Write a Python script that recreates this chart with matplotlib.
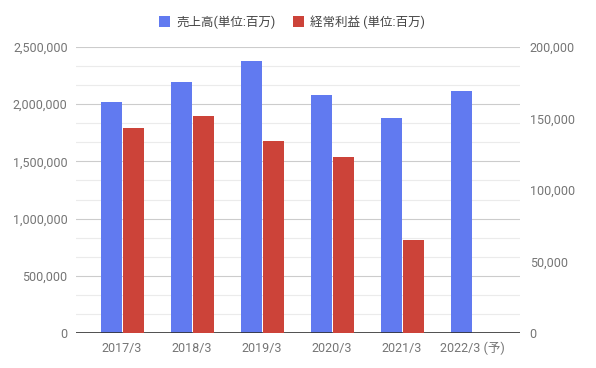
"""Sales and ordinary profit, dual-axis bar chart."""

import matplotlib

matplotlib.use("Agg")
import matplotlib.pyplot as plt
import numpy as np
from matplotlib.patches import Patch
from matplotlib.ticker import FuncFormatter, MultipleLocator

plt.rcParams["font.family"] = ["Roboto", "Noto Sans CJK JP", "DejaVu Sans"]

years = ["2017/3", "2018/3", "2019/3", "2020/3", "2021/3", "2022/3 (予)"]
sales = [2018000, 2190000, 2376000, 2079000, 1879000, 2114000]
profit = [143300, 151600, 134400, 123000, 65100, np.nan]

sales_label = "売上高(単位:百万)"
profit_label = "経常利益 (単位:百万)"

BLUE = "#617af0"
RED = "#cc4339"
TEXT = "#757575"

fig = plt.figure(figsize=(5.96, 3.68), dpi=100)
ax = fig.add_axes([76 / 596, 34.7 / 368, 444 / 596, 286.6 / 368])
ax2 = ax.twinx()

x = np.arange(len(years))
width = 0.296
ax.bar(x - 0.153, sales, width=width, color=BLUE, zorder=3)
ax2.bar(x + 0.166, profit, width=width, color=RED, zorder=3)

ax.set_xlim(-0.657, 5.686)
ax.set_ylim(0, 2500000)
ax2.set_ylim(0, 200000)

ax.yaxis.set_major_locator(MultipleLocator(500000))
ax.yaxis.set_minor_locator(MultipleLocator(500000 / 3))
ax2.yaxis.set_major_locator(MultipleLocator(50000))

fmt = FuncFormatter(lambda v, _: f"{v:,.0f}")
ax.yaxis.set_major_formatter(fmt)
ax2.yaxis.set_major_formatter(fmt)

ax.grid(axis="y", which="major", color="#cccccc", linewidth=0.8, zorder=0)
ax.grid(axis="y", which="minor", color="#ebebeb", linewidth=0.8, zorder=0)
ax.axhline(0, color="#333333", linewidth=1.2, zorder=4)

ax.set_xticks(x)
ax.set_xticklabels(years)
for a in (ax, ax2):
  for spine in a.spines.values():
    spine.set_visible(False)
  a.tick_params(length=0, labelsize=9, labelcolor=TEXT)
  a.tick_params(axis="y", which="minor", length=0)
ax.tick_params(axis="x", pad=6)
ax.tick_params(axis="y", pad=6)
ax2.tick_params(axis="y", pad=7)

handles = [
  Patch(facecolor=BLUE, label=sales_label),
  Patch(facecolor=RED, label=profit_label),
]
fig.legend(
  handles=handles,
  loc="center",
  bbox_to_anchor=(0.49, 0.94),
  ncol=2,
  frameon=False,
  fontsize=9,
  labelcolor="#444444",
  handlelength=0.9,
  handleheight=0.9,
  handletextpad=0.5,
  columnspacing=1.4,
)

fig.savefig("out.png", dpi=100)
